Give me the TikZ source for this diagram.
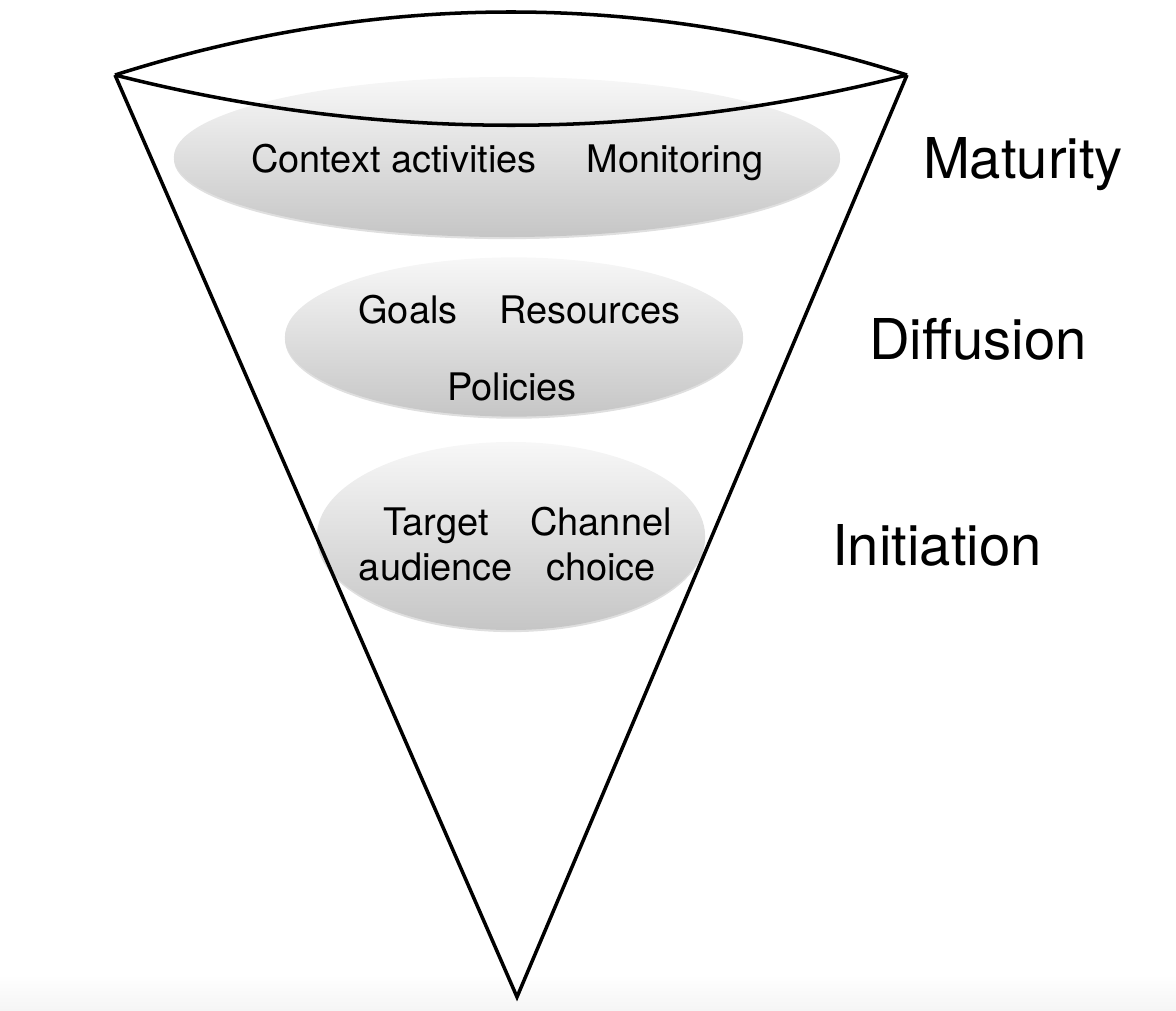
\documentclass[tikz,border=0pt]{standalone}
\usepackage{fontspec}
\setmainfont{TeX Gyre Heros}
\usetikzlibrary{shapes.geometric,shadows}
\tikzset{
  stage/.style={ellipse, inner sep=0pt, top color=gray!6, bottom color=gray!45,
    drop shadow={opacity=0.25, shadow xshift=0pt, shadow yshift=-1.5pt}},
  word/.style={font=\fontsize{27}{32}\selectfont, anchor=base, align=center},
  phase/.style={font=\fontsize{40}{48}\selectfont, anchor=base},
  rim/.style={line width=2.5pt, line join=miter}
}
\begin{document}
\begin{tikzpicture}[x=0.025cm, y=-0.025cm]
\useasboundingbox (0,0) rectangle (1176,1011);
\shade[top color=white, bottom color=gray!8] (0,975) rectangle (1176,1011); % faint strip at the bottom
% the three stages
\node[stage, minimum width=16.65cm, minimum height=4cm] (mat) at (507,157) {};
\node[stage, minimum width=11.45cm, minimum height=3.98cm] (dif) at (514,337) {};
\node[stage, minimum width=9.7cm, minimum height=4.7cm] (ini) at (511,536) {};
\node[word] (ctx) at (394,173) {Context activities};
\node[word] (mon) at (675,173) {Monitoring};
\node[word] (goa) at (408,323) {Goals};
\node[word] (res) at (590,323) {Resources};
\node[word] (pol) at (512,400) {Policies};
\node[word] (tgt) at (436,580) {Target\\audience};
\node[word] (chn) at (601,580) {Channel\\choice};
% the cone
\coordinate (tl) at (115,75);
\coordinate (tr) at (907,75);
\coordinate (tip) at (517,997);
\draw[rim] (tl) -- (tip) -- (tr);
\draw[rim] (tl) .. controls (379,-9) and (643,-9) .. (tr);
\draw[rim] (tl) .. controls (379,142) and (643,142) .. (tr);
% phase names
\node[phase] (lmat) at (1023,179) {Maturity};
\node[phase] (ldif) at (978,359) {Diffusion};
\node[phase] (lini) at (937,565) {Initiation};
\end{tikzpicture}
\end{document}
